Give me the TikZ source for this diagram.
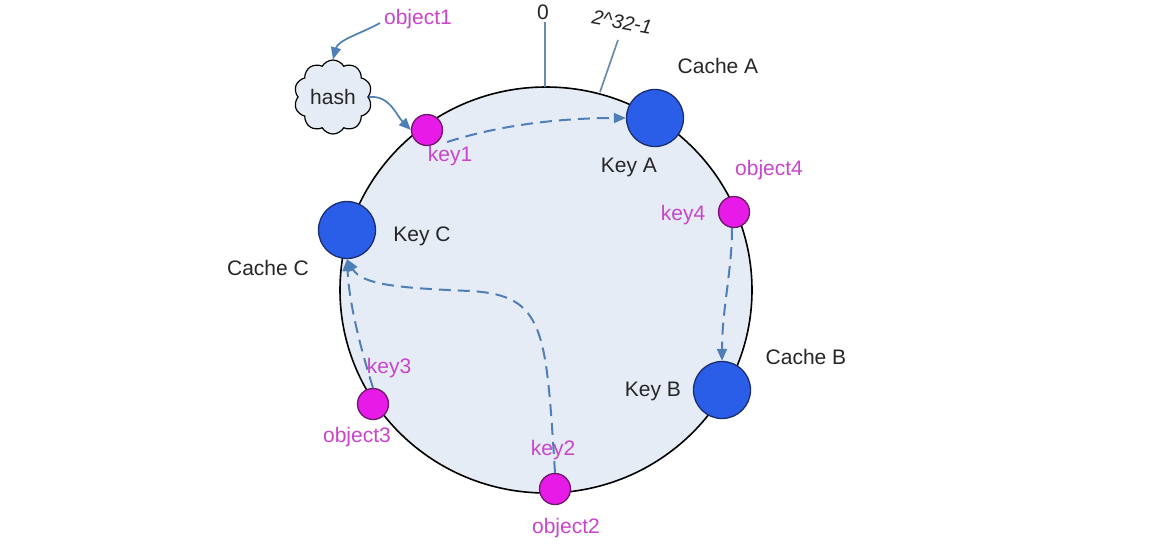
\documentclass[tikz,border=0pt]{standalone}
\usepackage{fontspec}
\setmainfont{Liberation Sans}
\usetikzlibrary{arrows.meta,shapes.symbols}
\definecolor{ringfill}{HTML}{E6ECF5}
\definecolor{cachefill}{HTML}{2B5EE8}
\definecolor{cacheline}{HTML}{1A2E6E}
\definecolor{keyfill}{HTML}{E81AE8}
\definecolor{keyline}{HTML}{6A1A6A}
\definecolor{magtext}{HTML}{C845CC}
\definecolor{darktext}{HTML}{262626}
\definecolor{flow}{HTML}{4F7FB7}
\definecolor{pointer}{HTML}{6A8AB0}
\tikzset{
  cache/.style={circle,draw=cacheline,line width=1.3pt,fill=cachefill,minimum size=57pt,inner sep=0pt},
  keydot/.style={circle,draw=keyline,line width=1.3pt,fill=keyfill,minimum size=31pt,inner sep=0pt},
  lbl/.style={text=darktext,font=\fontsize{21}{24}\selectfont,inner sep=0pt},
  mlbl/.style={text=magtext,font=\fontsize{21}{24}\selectfont,inner sep=0pt},
  flowarrow/.style={draw=flow,line width=2pt,dash pattern=on 12pt off 7pt,-{Triangle[length=12pt,width=10pt]}},
  solidarrow/.style={draw=flow,line width=1.7pt,-{Triangle[length=12pt,width=10pt]}},
  pointerline/.style={draw=pointer,line width=1.7pt},
  hashcloud/.style={cloud,cloud puffs=10,cloud puff arc=120,aspect=1.05,draw=black,line width=1.2pt,fill=ringfill,minimum width=78pt,minimum height=74pt,inner sep=0pt,text=darktext,font=\fontsize{21}{24}\selectfont}
}
\begin{document}
\begin{tikzpicture}[x=1pt,y=-1pt]
\useasboundingbox[fill=white] (0,0) rectangle (1160,558);
% ring
\draw[fill=ringfill,draw=black,line width=1.6pt] (546,290) ellipse [x radius=206pt,y radius=203pt];
% cache nodes
\node[cache] (A) at (655,118) {};
\node[cache] (B) at (722,390) {};
\node[cache] (C) at (347,230) {};
% key dots
\node[keydot] (k1) at (427,130) {};
\node[keydot] (k2) at (555,489) {};
\node[keydot] (k3) at (373,404) {};
\node[keydot] (k4) at (734,212) {};
% hash cloud
\node[hashcloud] (hash) at (333,97) {hash};
% labels
\node[lbl] (zero) at (543,12) {0};
\node[lbl,rotate=-10,font=\fontsize{20}{24}\selectfont\itshape] (max) at (622,22) {2\^{}32-1};
\node[lbl] (lA) at (718,66) {Cache A};
\node[lbl] (lKA) at (629,167) {Key A};
\node[lbl] (lB) at (806,357) {Cache B};
\node[lbl] (lKB) at (653,391) {Key B};
\node[lbl] (lC) at (268,268) {Cache C};
\node[lbl] (lKC) at (422,236) {Key C};
\node[mlbl] (o1) at (418,19) {object1};
\node[mlbl] (l1) at (450,156) {key1};
\node[mlbl] (o4) at (769,170) {object4};
\node[mlbl] (l4) at (683,215) {key4};
\node[mlbl] (l3) at (389,368) {key3};
\node[mlbl] (o3) at (357,437) {object3};
\node[mlbl] (l2) at (553,450) {key2};
\node[mlbl] (o2) at (566,528) {object2};
% pointer lines
\coordinate (ringtop) at (545,87);
\coordinate (ringmax) at (600,92);
\coordinate (maxfoot) at (618,40);
\draw[pointerline] (zero.south) ++(2,2) -- (ringtop);
\draw[pointerline] (maxfoot) -- (ringmax);
% hashing arrows
\coordinate (o1start) at (380,23);
\draw[solidarrow] (o1start) .. controls (362,33) and (338,40) .. (hash.north);
\draw[solidarrow] (hash.east) .. controls (390,95) and (396,115) .. (k1.west);
% mapping arrows
\draw[flowarrow] (k1.east) ++(4,12) .. controls (500,125) and (560,118) .. (A.west);
\draw[flowarrow] (k4.south) ++(-2,0) .. controls (732,270) and (722,310) .. (B.north);
\draw[flowarrow] (k2.north) .. controls (546,330) and (545,295) .. (470,291) .. controls (400,288) and (362,285) .. (C.south);
\draw[flowarrow] (k3.north) .. controls (358,340) and (349,300) .. (C.south);
\end{tikzpicture}
\end{document}
